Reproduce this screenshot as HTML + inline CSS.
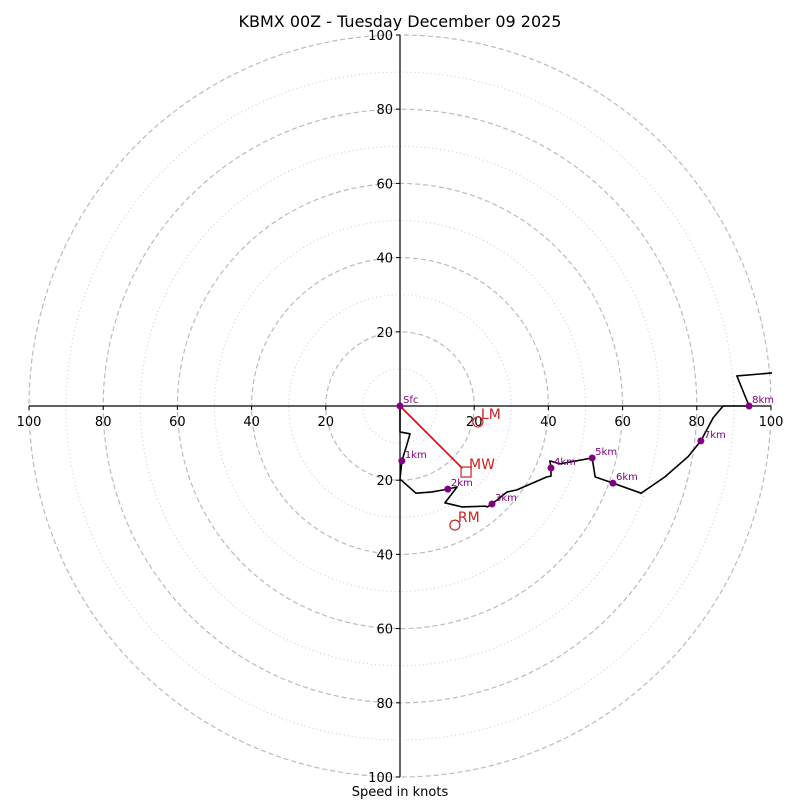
<!DOCTYPE html>
<html><head><meta charset="utf-8"><style>
html,body{margin:0;padding:0;background:#fff}
svg{display:block;font-family:"DejaVu Sans","Liberation Sans",sans-serif}
</style></head><body>
<svg id="c" width="800" height="800" viewBox="0 0 800 800">
<rect width="800" height="800" fill="#fff"/>
<text x="400" y="27" text-anchor="middle" font-size="16">KBMX 00Z - Tuesday December 09 2025</text>
<text x="400" y="796" text-anchor="middle" font-size="13">Speed in knots</text>
<g id="rings"></g><g id="axes"></g><g id="trace"></g><g id="marks"></g>
</svg>
<script>
const ringValues=[10,20,30,40,50,60,70,80,90,100];
const tickValues=[20,40,60,80,100];
const traceU=[0,0,2.7,1.6,0.5,0,4.3,8.4,12.9,15.4,12.1,16.7,22.9,23.5,24.8,28.8,31.5,39.6,40.7,40.7,40.4,43.1,51.8,52.6,57.4,65.0,71.4,77.6,81.1,84.4,87.1,94.1,90.8,100.3];
const traceV=[0,-7.0,-7.5,-11.3,-14.8,-19.7,-23.5,-23.2,-22.4,-21.8,-26.1,-27.2,-27.0,-27.2,-26.4,-23.2,-22.6,-19.1,-18.9,-16.7,-14.8,-15.6,-14.0,-19.1,-20.8,-23.5,-19.1,-13.7,-9.4,-3.2,0,0,8.1,8.9];
const heightLabels=["Sfc","1km","2km","3km","4km","5km","6km","7km","8km"];
const heightU=[0,0.5,12.9,24.8,40.7,51.8,57.4,81.1,94.1];
const heightV=[0,-14.8,-22.4,-26.4,-16.7,-14.0,-20.8,-9.4,0];
const motionLabels=["LM","MW","RM"];
const motionU=[21.0,17.8,14.8];
const motionV=[-4.3,-17.8,-32.1];
const CX=400,CY=406,S=3.71;
const sx=u=>CX+u*S, sy=v=>CY-v*S;
const NS="http://www.w3.org/2000/svg";
function mk(p,t,a){const e=document.createElementNS(NS,t);for(const k in a)e.setAttribute(k,a[k]);p.appendChild(e);return e;}
const rings=document.getElementById('rings');
ringValues.forEach(r=>{
  const e=mk(rings,'circle',{cx:CX,cy:CY,r:r*S,fill:'none',stroke:r%20===0?'#bbb':'#ccc','stroke-width':r%20===0?1.2:1,'stroke-dasharray':r%20===0?'5,3':'1,3'});
  
  
});
const axes=document.getElementById('axes');
let a=mk(axes,'line',{x1:sx(-100),y1:CY,x2:sx(100),y2:CY,stroke:'#000','stroke-width':1.2});


a=mk(axes,'line',{x1:CX,y1:sy(100),x2:CX,y2:sy(-100),stroke:'#000','stroke-width':1.2});


tickValues.forEach(t=>{
  [-1,1].forEach(s=>{
    let l=mk(axes,'line',{x1:sx(s*t),y1:CY,x2:sx(s*t),y2:CY+4,stroke:'#000'});
    
    
    let tx=mk(axes,'text',{x:sx(s*t),y:CY+20,'text-anchor':'middle','font-size':13});
    tx.textContent=t;
    
    
    l=mk(axes,'line',{x1:CX-4,y1:sy(s*t),x2:CX,y2:sy(s*t),stroke:'#000'});
    
    
    tx=mk(axes,'text',{x:CX-7,y:sy(s*t)+5,'text-anchor':'end','font-size':13});
    tx.textContent=t;
    
    
  });
});
const tr=document.getElementById('trace');
const pl=mk(tr,'polyline',{points:traceU.map((u,i)=>sx(u)+','+sy(traceV[i])).join(' '),fill:'none',stroke:'#000','stroke-width':1.6,'stroke-linejoin':'round'});


const mg=document.getElementById('marks');
// mean wind vector
let mw=mk(mg,'line',{x1:sx(0),y1:sy(0),x2:sx(motionU[1]-1),y2:sy(motionV[1]+1),stroke:'#e00','stroke-width':1.6});


heightLabels.forEach((h,i)=>{
  const d=mk(mg,'circle',{cx:sx(heightU[i]),cy:sy(heightV[i]),r:3.5,fill:'purple'});
  
  
  const t=mk(mg,'text',{x:sx(heightU[i])+3,y:sy(heightV[i])-3,'font-size':10,fill:'purple'});
  t.textContent=h;
  
  
});
motionLabels.forEach((m,i)=>{
  const x=sx(motionU[i]),y=sy(motionV[i]);
  let e;
  if(m==='MW') e=mk(mg,'rect',{x:x-5,y:y-5,width:10,height:10,fill:'none',stroke:'#c22','stroke-width':1.2});
  else e=mk(mg,'circle',{cx:x,cy:y,r:5,fill:'none',stroke:'#c22','stroke-width':1.2});
  
  
  const t=mk(mg,'text',{x:x+3,y:y-3,'font-size':14,fill:'#c22'});
  t.textContent=m;
  
  
});
</script>
</body></html>
